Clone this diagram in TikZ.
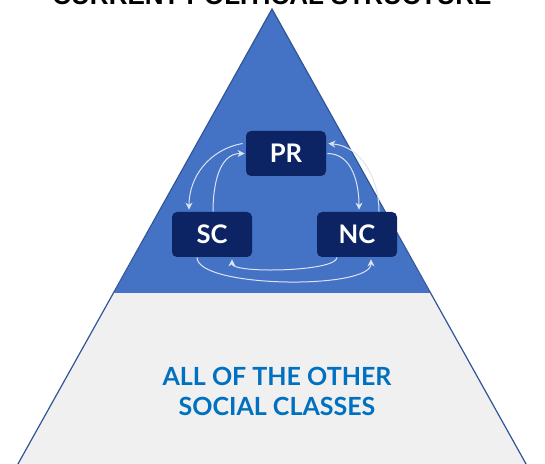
\documentclass[tikz,border=0pt]{standalone}
\usepackage{fontspec}
\setmainfont{Lato}
\newfontfamily\titlefont{Liberation Sans}
\usetikzlibrary{arrows.meta,calc}

\definecolor{pyrblue}{HTML}{4472C4}
\definecolor{pyredge}{HTML}{2F5597}
\definecolor{pyrgray}{HTML}{F0F0F0}
\definecolor{boxnavy}{HTML}{0C2463}
\definecolor{classblue}{HTML}{0070C0}
\definecolor{linkgray}{HTML}{DCE4F2}

\tikzset{
  power/.style={fill=boxnavy, rounded corners=2.5pt, minimum width=40pt,
    minimum height=22.5pt, inner sep=0pt, text=white,
    font=\fontsize{12.8}{14}\selectfont\bfseries},
  link/.style={draw=linkgray, line width=0.5pt,
    -{Stealth[length=3.5pt,width=3.5pt]}},
}

\begin{document}
\begin{tikzpicture}[x=0.5pt,y=0.5pt]
      \useasboundingbox (0,0) rectangle (545,-464);
      % the pyramid, cut by the page edge
      \begin{scope}
        \clip (0,0) rectangle (545,-464);
        \fill[pyrgray] (114,-293) -- (430,-293) -- (535,-480) -- (9,-480) -- cycle;
        \fill[pyrblue] (272,-9) -- (430,-293) -- (114,-293) -- cycle;
        \draw[pyredge, line width=0.6pt] (9,-480) -- (272,-9) -- (535,-480);
      \end{scope}
      \node[anchor=base, font=\titlefont\fontsize{13}{15}\selectfont\bfseries]
        (title) at (272,-5) {CURRENT POLITICAL STRUCTURE};
      % the ruling three
      \node[power] (pr) at (286,-153.5) {PR};
      \node[power] (sc) at (212,-234.5) {SC};
      \node[power] (nc) at (357,-234.5) {NC};
      \node[text=classblue, align=center, font=\fontsize{12.5}{15}\selectfont\bfseries]
        (others) at (277,-391) {ALL OF THE OTHER\\SOCIAL CLASSES};
      \begin{scope}[link]
        \draw ($(pr.west)+(-3,10)$) to[out=190,in=90] ($(sc.north)+(-23,2)$);
        \draw ($(sc.north)+(1,0)$) to[out=90,in=180] ($(pr.west)+(-1,0)$);
        \draw ($(pr.east)+(1,0)$) to[out=0,in=90] ($(nc.north)+(2,2)$);
        \draw ($(nc.north)+(22,0)$) to[out=90,in=-5] ($(pr.east)+(2,10)$);
        \draw ($(nc.south)+(-20,0)$) to[out=-90,in=-90,looseness=0.35] ($(sc.south)+(20,-2)$);
        \draw ($(sc.south)+(-15,0)$) to[out=-90,in=-90,looseness=0.45] ($(nc.south)+(14,-2)$);
      \end{scope}
    \end{tikzpicture}
\end{document}
